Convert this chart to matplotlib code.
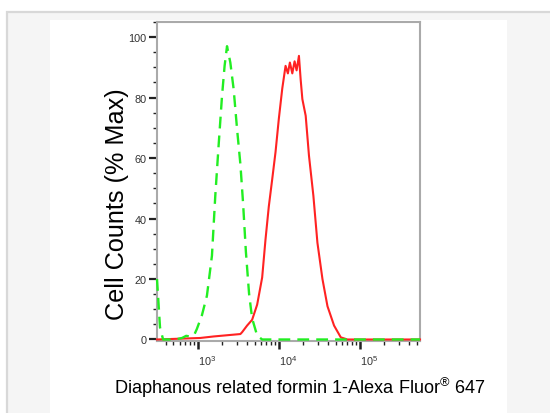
import matplotlib
matplotlib.use("Agg")
import matplotlib.pyplot as plt
from matplotlib.patches import Rectangle
from matplotlib.ticker import LogLocator, FixedLocator, NullFormatter, FixedFormatter

plt.rcParams['font.family'] = ['Liberation Sans', 'DejaVu Sans']
plt.rcParams['mathtext.fontset'] = 'custom'
plt.rcParams['mathtext.rm'] = 'Liberation Sans'
plt.rcParams['mathtext.it'] = 'Liberation Sans'

# Control (green dashed) histogram
green_x = [313, 341, 372, 524, 638, 716, 803, 900, 972, 1121, 1293, 1491, 1639,
           1800, 1983, 2136, 2288, 2513, 2761, 3043, 3344, 3611, 3911, 4285,
           4667, 5383, 6209, 550000]
green_y = [20, 4, 0, 0, 0.5, 1.2, 1, 1.5, 3.5, 8, 14.5, 27.7, 47.5,
           64, 80.4, 90.5, 97, 91.6, 82.8, 69.6, 58, 45, 29, 15,
           7, 1.3, 0, 0]

# Stained sample (red) histogram
red_x = [313, 1068, 1561, 2513, 3344, 3509, 4046, 4667, 5383, 6209, 6823, 7499,
         8260, 9077, 9970, 10990, 12070, 12890, 13650, 14620, 15600, 16520,
         17650, 18530, 19450, 21380, 23470, 26610, 29840, 34420, 39700,
         47880, 57950, 70190, 550000]
red_y = [0, 0.5, 1, 1.5, 1.8, 2.4, 4.6, 6.5, 11.5, 20.5, 33, 44,
         53, 62, 73, 83, 90.5, 88, 91.6, 88, 92, 89,
         93.8, 86, 79.5, 74, 60.8, 47.5, 32, 20, 11,
         4.6, 0.7, 0, 0]

y_ticks = [0, 20, 40, 60, 80, 100]
x_major = [1e3, 1e4, 1e5]
x_labels = [r'$10^{3}$', r'$10^{4}$', r'$10^{5}$']

W, H = 550, 414
fig = plt.figure(figsize=(W / 100, H / 100), dpi=100)
fig.patch.set_facecolor('white')

# outer light gray box with border
fig.patches.append(Rectangle((7 / W, -0.01), 1.0, (H - 13) / H + 0.01, transform=fig.transFigure,
                             facecolor='#f5f5f5', edgecolor='#d8d8d8', linewidth=1.6, zorder=0))
# inner white panel
fig.patches.append(Rectangle((50 / W, 0), (507 - 50) / W, (H - 21) / H, transform=fig.transFigure,
                             facecolor='white', edgecolor='none', zorder=0.5))

ax = fig.add_axes([157 / W, 72 / H, (420 - 157) / W, (342 - 23) / H])
ax.set_zorder(2)
ax.set_facecolor('white')

ax.plot(red_x, red_y, color='#ff2222', lw=1.5, zorder=3, clip_on=False)
ax.plot(green_x, green_y, color='#22ee22', lw=1.7, dashes=(5, 3), zorder=4, clip_on=False)

ax.set_xscale('log')
ax.set_xlim(313, 550000)
ax.set_ylim(-0.5, 105)

ax.xaxis.set_major_locator(FixedLocator(x_major))
ax.xaxis.set_major_formatter(FixedFormatter(x_labels))
ax.xaxis.set_minor_locator(LogLocator(base=10, subs=[2, 3, 4, 5, 6, 7, 8, 9], numticks=20))
ax.xaxis.set_minor_formatter(NullFormatter())

ax.set_yticks(y_ticks)
ax.set_yticks(list(range(0, 106, 5)), minor=True)

for s in ax.spines.values():
    s.set_color('#aaaaaa')
    s.set_linewidth(1.5)

ax.tick_params(axis='both', which='major', direction='out', color='#222222',
               labelcolor='#333333')
ax.tick_params(axis='y', which='major', length=5.5, width=1.6, labelsize=7.8, pad=2)
ax.tick_params(axis='y', which='minor', length=3, width=1.0, color='#222222')
ax.tick_params(axis='x', which='major', length=6, width=1.8, labelsize=7.8, pad=3)
ax.tick_params(axis='x', which='minor', length=3.2, width=1.0, color='#222222')
for lbl in ax.get_xticklabels():
    lbl.set_horizontalalignment('left')

fig.text(117 / W, 1 - 204 / H, 'Cell Counts (% Max)', rotation=90, ha='center', va='center',
         fontsize=18.2, color='black', zorder=3)
fig.text(300 / W, 1 - 388 / H, 'Diaphanous related formin 1-Alexa Fluor$^{\\mathregular{®}}$ 647',
         ha='center', va='center', fontsize=13.1, color='black', zorder=3)

fig.savefig('out.png', dpi=100)
